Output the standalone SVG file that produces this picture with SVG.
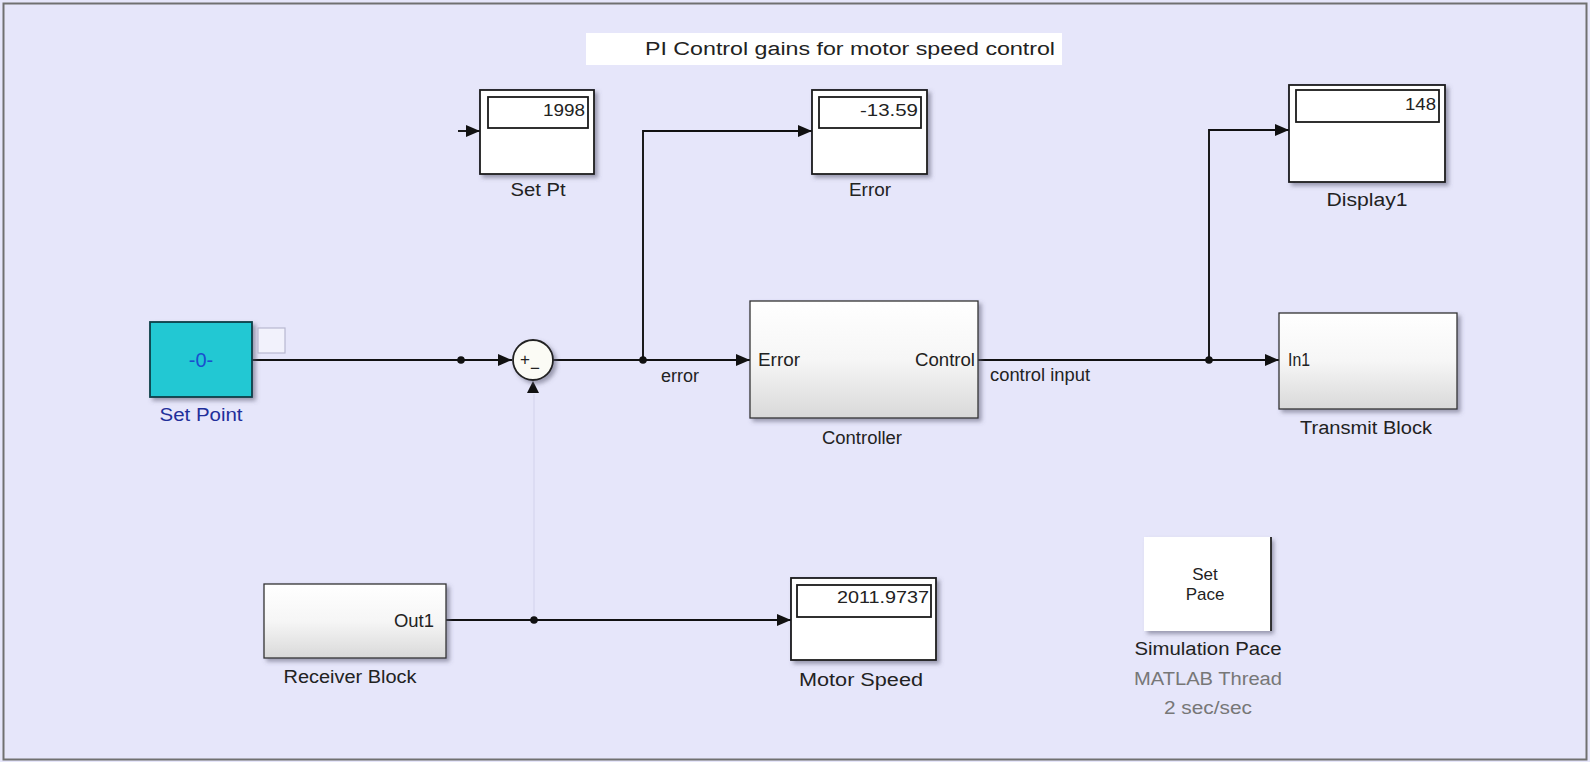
<svg xmlns="http://www.w3.org/2000/svg" width="1590" height="762" viewBox="0 0 1590 762">
<defs>
<style>
.lbl{font-family:"Liberation Sans",Arial,sans-serif;font-size:18px;fill:#222}
.val{font-family:"Liberation Sans",Arial,sans-serif;font-size:17px;fill:#222}
.blk{fill:#fff;stroke:#1a1a1a;stroke-width:1.8}
.inner{fill:none;stroke:#1a1a1a;stroke-width:1.8}
.grad{fill:url(#g);stroke:#333;stroke-width:1.3}
.wire{fill:none;stroke:#111;stroke-width:1.9}
.dot{fill:#111}
</style>
<linearGradient id="g" x1="0" y1="0" x2="0" y2="1">
<stop offset="0" stop-color="#ffffff"/><stop offset="0.5" stop-color="#f6f6f6"/><stop offset="1" stop-color="#d9d9d9"/>
</linearGradient>
<filter id="sh" x="-10%" y="-10%" width="130%" height="130%">
<feDropShadow dx="3" dy="3" stdDeviation="2" flood-color="#5a5a70" flood-opacity="0.55"/>
</filter>
<marker id="arr" markerWidth="14" markerHeight="12" refX="14" refY="6" orient="auto" markerUnits="userSpaceOnUse">
<path d="M0,0 L14,6 L0,12 z" fill="#111"/>
</marker>
</defs>
<rect x="0" y="0" width="1590" height="762" fill="#e6e6fa"/>
<rect x="3.5" y="3.5" width="1583" height="756" fill="none" stroke="#707070" stroke-width="2"/>

<g id="title">
<rect x="586" y="33" width="476" height="32" fill="#ffffff"/>
<text class="lbl" x="850" y="55" text-anchor="middle" textLength="410" lengthAdjust="spacingAndGlyphs">PI Control gains for motor speed control</text>
</g>

<g id="connectors">
<line class="wire" x1="252" y1="360" x2="512" y2="360" marker-end="url(#arr)"/>
<line class="wire" x1="458" y1="131" x2="480" y2="131" marker-end="url(#arr)"/>
<line class="wire" x1="553" y1="360" x2="750" y2="360" marker-end="url(#arr)"/>
<polyline class="wire" points="643,360 643,131 812,131" marker-end="url(#arr)"/>
<line class="wire" x1="978" y1="360" x2="1279" y2="360" marker-end="url(#arr)"/>
<polyline class="wire" points="1209,360 1209,130 1289,130" marker-end="url(#arr)"/>
<line class="wire" x1="446" y1="620" x2="791" y2="620" marker-end="url(#arr)"/>
<line x1="534" y1="620" x2="534" y2="394" stroke="#d6d6ee" stroke-width="1.2"/>
<path d="M527,393 L533,381 L539,393 z" fill="#111"/>
<circle class="dot" cx="461" cy="360" r="3.8"/>
<circle class="dot" cx="643" cy="360" r="3.8"/>
<circle class="dot" cx="1209" cy="360" r="3.8"/>
<circle class="dot" cx="534" cy="620" r="3.8"/>
<text class="lbl" x="680" y="382" text-anchor="middle" textLength="38" lengthAdjust="spacingAndGlyphs">error</text>
<text class="lbl" x="990" y="381" textLength="100" lengthAdjust="spacingAndGlyphs">control input</text>
</g>

<g id="setpoint">
<rect x="150" y="322" width="102" height="75" fill="#22c8d3" stroke="#0c3f48" stroke-width="1.8" filter="url(#sh)"/>
<text class="lbl" x="201" y="367" text-anchor="middle" style="fill:#1a4fcf;font-size:20px">-0-</text>
<rect x="258" y="328" width="27" height="25" fill="#f2f2fc" stroke="#b8b8d0" stroke-width="1.2"/>
<text class="lbl" x="201" y="421" text-anchor="middle" textLength="83" lengthAdjust="spacingAndGlyphs" style="fill:#1f2f9a">Set Point</text>
</g>

<g id="sum">
<circle cx="533" cy="360" r="20" fill="#fbfbf5" stroke="#222" stroke-width="1.8" filter="url(#sh)"/>
<text class="val" x="525" y="365" text-anchor="middle" style="font-size:17px">+</text>
<text class="val" x="535" y="374" text-anchor="middle" style="font-size:17px">−</text>
</g>

<g id="setpt">
<rect class="blk" x="480" y="90" width="114" height="84" filter="url(#sh)"/>
<rect class="inner" x="488" y="97" width="100" height="31"/>
<text class="val" x="585" y="116" text-anchor="end" textLength="42" lengthAdjust="spacingAndGlyphs">1998</text>
<text class="lbl" x="538" y="196" text-anchor="middle" textLength="55" lengthAdjust="spacingAndGlyphs">Set Pt</text>
</g>

<g id="error">
<rect class="blk" x="812" y="90" width="115" height="84" filter="url(#sh)"/>
<rect class="inner" x="819" y="97" width="102" height="31"/>
<text class="val" x="918" y="116" text-anchor="end" textLength="58" lengthAdjust="spacingAndGlyphs">-13.59</text>
<text class="lbl" x="870" y="196" text-anchor="middle" textLength="42" lengthAdjust="spacingAndGlyphs">Error</text>
</g>

<g id="display1">
<rect class="blk" x="1289" y="85" width="156" height="97" filter="url(#sh)"/>
<rect class="inner" x="1296" y="90" width="143" height="32"/>
<text class="val" x="1436" y="110" text-anchor="end" textLength="31" lengthAdjust="spacingAndGlyphs">148</text>
<text class="lbl" x="1367" y="206" text-anchor="middle" textLength="81" lengthAdjust="spacingAndGlyphs">Display1</text>
</g>

<g id="controller">
<rect class="grad" x="750" y="301" width="228" height="117" filter="url(#sh)"/>
<text class="lbl" x="758" y="366" textLength="42" lengthAdjust="spacingAndGlyphs">Error</text>
<text class="lbl" x="975" y="366" text-anchor="end" textLength="60" lengthAdjust="spacingAndGlyphs">Control</text>
<text class="lbl" x="862" y="444" text-anchor="middle" textLength="80" lengthAdjust="spacingAndGlyphs">Controller</text>
</g>

<g id="transmit">
<rect class="grad" x="1279" y="313" width="178" height="96" filter="url(#sh)"/>
<text class="lbl" x="1288" y="366" textLength="22" lengthAdjust="spacingAndGlyphs">In1</text>
<text class="lbl" x="1366" y="434" text-anchor="middle" textLength="132" lengthAdjust="spacingAndGlyphs">Transmit Block</text>
</g>

<g id="receiver">
<rect class="grad" x="264" y="584" width="182" height="74" filter="url(#sh)"/>
<text class="lbl" x="434" y="627" text-anchor="end" textLength="40" lengthAdjust="spacingAndGlyphs">Out1</text>
<text class="lbl" x="350" y="683" text-anchor="middle" textLength="133" lengthAdjust="spacingAndGlyphs">Receiver Block</text>
</g>

<g id="motorspeed">
<rect class="blk" x="791" y="578" width="145" height="82" filter="url(#sh)"/>
<rect class="inner" x="797" y="585" width="134" height="32"/>
<text class="val" x="929" y="603" text-anchor="end" textLength="92" lengthAdjust="spacingAndGlyphs">2011.9737</text>
<text class="lbl" x="861" y="686" text-anchor="middle" textLength="124" lengthAdjust="spacingAndGlyphs">Motor Speed</text>
</g>

<g id="simpace">
<rect x="1144" y="537" width="127" height="94" fill="#ffffff" filter="url(#sh)"/>
<line x1="1271" y1="537" x2="1271" y2="631" stroke="#222" stroke-width="1.8"/>
<text class="val" x="1205" y="580" text-anchor="middle">Set</text>
<text class="val" x="1205" y="600" text-anchor="middle">Pace</text>
<text class="lbl" x="1208" y="655" text-anchor="middle" textLength="147" lengthAdjust="spacingAndGlyphs">Simulation Pace</text>
<text class="lbl" x="1208" y="685" text-anchor="middle" textLength="148" lengthAdjust="spacingAndGlyphs" style="fill:#777">MATLAB Thread</text>
<text class="lbl" x="1208" y="714" text-anchor="middle" textLength="88" lengthAdjust="spacingAndGlyphs" style="fill:#777">2 sec/sec</text>
</g>
</svg>
